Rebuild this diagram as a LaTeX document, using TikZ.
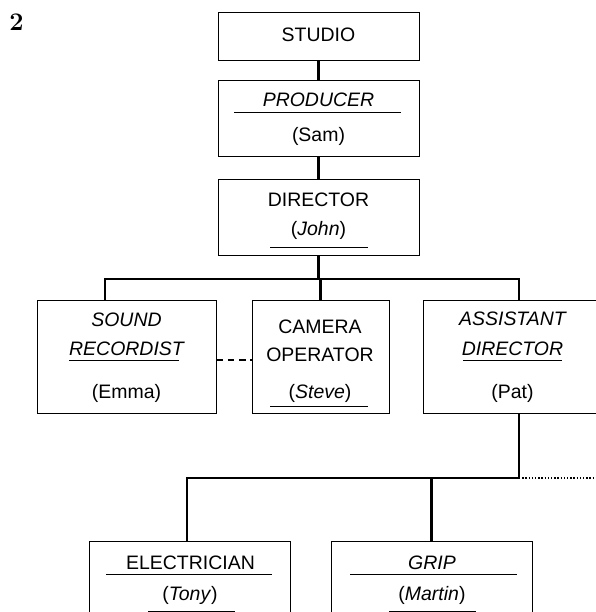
\documentclass[tikz,border=0pt]{standalone}
\usepackage{fontspec}
\newfontfamily\chartfont{Liberation Sans}

\tikzset{
  post/.style 2 args={draw, line width=0.7pt, inner sep=0pt,
    minimum width=#1*0.75pt, minimum height=#2*0.75pt},
  lbl/.style={anchor=base, inner sep=0pt},
  link/.style={line width=1.6pt},
  uline/.style={line width=0.6pt},
}

\begin{document}
\begin{tikzpicture}[x=0.75pt, y=-0.75pt, font=\chartfont\fontsize{14.6}{17}\selectfont]
  \clip (0,0) rectangle (596,612);

  % figure number
  \node[anchor=base west, inner sep=0pt, font=\rmfamily\bfseries\fontsize{19}{22}\selectfont]
    (fignum) at (9,30) {2};

  % boxes (centre, width x height in px)
  \node[post={201}{48}]  (studio)      at (318.5,36)    {};
  \node[post={201}{76}]  (producer)    at (318.5,118)   {};
  \node[post={201}{76}]  (director)    at (318.5,217)   {};
  \node[post={179}{113}] (sound)       at (126.5,356.5) {};
  \node[post={137}{113}] (camera)      at (320.5,356.5) {};
  \node[post={180}{113}] (assistant)   at (513,356.5)   {};
  \node[post={201}{76}]  (electrician) at (189.5,579)   {};
  \node[post={201}{76}]  (grip)        at (431.5,579)   {};

  % box texts
  \node[lbl] (studio-a)      at (318.5,41.2)  {STUDIO};
  \node[lbl] (producer-a)    at (318.5,106)   {\itshape PRODUCER};
  \node[lbl] (producer-b)    at (318.5,141)   {(Sam)};
  \node[lbl] (director-a)    at (318.5,206)   {DIRECTOR};
  \node[lbl] (director-b)    at (318.5,235)   {(\textit{John})};
  \node[lbl] (sound-a)       at (126.5,326.7) {\itshape SOUND};
  \node[lbl] (sound-b)       at (126.5,355)   {\itshape RECORDIST};
  \node[lbl] (sound-c)       at (126.5,398.3) {(Emma)};
  \node[lbl] (camera-a)      at (320,333.3)   {CAMERA};
  \node[lbl] (camera-b)      at (320,361.7)   {OPERATOR};
  \node[lbl] (camera-c)      at (320,398.3)   {(\textit{Steve})};
  \node[lbl] (assistant-a)   at (512.5,325.7) {\itshape ASSISTANT};
  \node[lbl] (assistant-b)   at (512.5,355)   {\itshape DIRECTOR};
  \node[lbl] (assistant-c)   at (512.5,398.3) {(Pat)};
  \node[lbl] (electrician-a) at (190.5,569)   {ELECTRICIAN};
  \node[lbl] (electrician-b) at (190,600)     {(\textit{Tony})};
  \node[lbl] (grip-a)        at (432,569)     {\itshape GRIP};
  \node[lbl] (grip-b)        at (432,600)     {(\textit{Martin})};

  % underlines
  \foreach \xa/\xb/\yy in {234/401/112, 270/368/247, 69/179/360, 270/368/406,
      463/562/360, 106/272/574, 148/235/611.5, 350/517/574, 389/476/611.5}
    \draw[uline] (\xa,\yy) -- (\xb,\yy);

  % top chain
  \draw[link] (studio) -- (producer);
  \draw[link] (producer) -- (director);

  % director's crew
  \coordinate (busL) at (105,279);
  \coordinate (busR) at (519,279);
  \draw[link] (director.south) -- (director.south |- busL);
  \draw[link] (busL |- sound.north) -- (busL) -- (busR) -- (busR |- assistant.north);
  \draw[link] (camera.north) -- (camera.north |- busL);
  \draw[line width=1.6pt, dash pattern=on 5pt off 3.5pt]
    ([yshift=-2.6pt]sound.east) -- ([yshift=-2.6pt]camera.west);

  % assistant director's crew
  \coordinate (lowR) at (519,478);
  \coordinate (lowL) at (187,478);
  \coordinate (lowEnd) at (600,478);
  \draw[link] (assistant.south -| lowR) -- (lowR) -- (lowL) -- (lowL |- electrician.north);
  \draw[link] (grip.north) -- (grip.north |- lowR);
  \draw[line width=1.1pt, dash pattern=on 1.1pt off 1.3pt] (lowR) -- (lowEnd);
\end{tikzpicture}
\end{document}
